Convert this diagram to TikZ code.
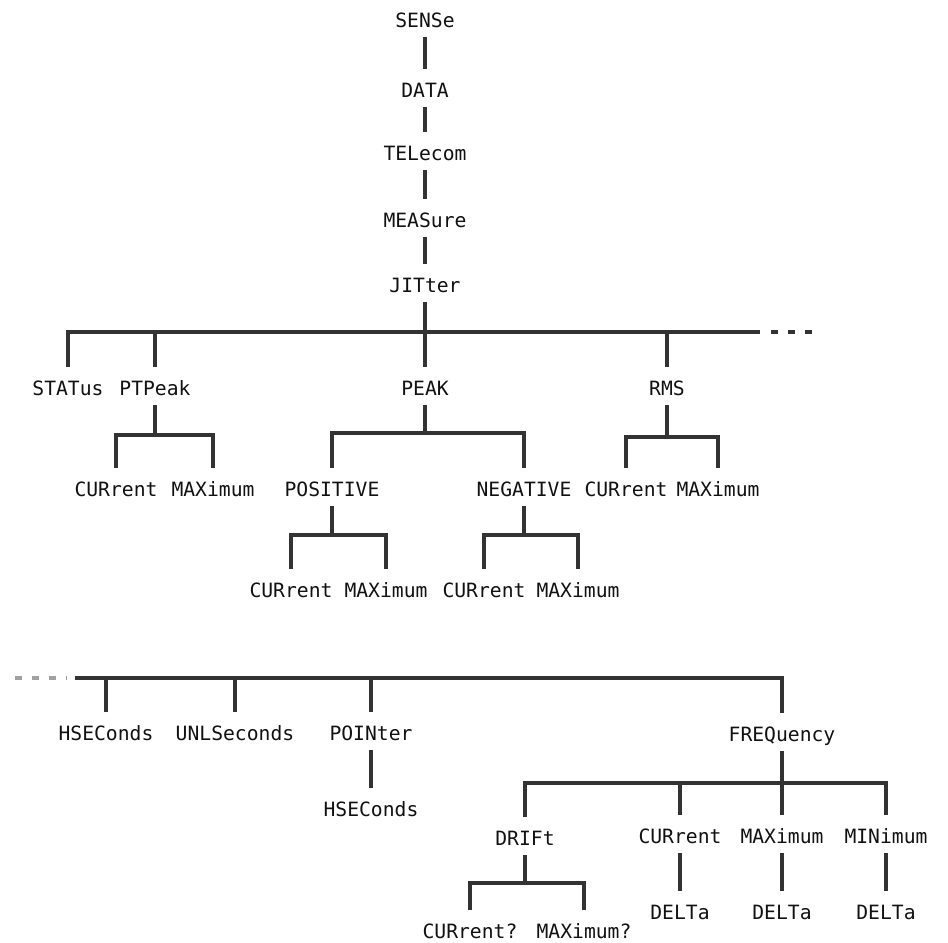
\documentclass[tikz,border=0pt]{standalone}
\usepackage{fontspec}
\setmainfont{DejaVu Sans Mono}
\definecolor{TreeInk}{HTML}{111111}
\definecolor{TreeLine}{HTML}{333333}
\definecolor{TreeFaint}{HTML}{A0A0A0}
\usepackage{tikz}
\tikzset{
    cmd/.style={
        inner sep=0pt,
        anchor=base,
        text height=19.4pt,
        text depth=7pt,
        text=TreeInk,
        font=\fontsize{14pt}{16pt}\selectfont
    },
    link/.style={
        line width=2.4pt,
        TreeLine
    },
    trail/.style={
        line width=2.4pt,
        dash pattern=on 5pt off 7pt,
        #1
    },
    trail/.default=TreeLine
}
\begin{document}
\begin{tikzpicture}[x=0.025cm, y=-0.025cm]
        \useasboundingbox (0,0) rectangle (948,942);

        % Spine
        \node[cmd] (sense) at (425,27) {SENSe};
        \node[cmd] (data) at (425,97) {DATA};
        \node[cmd] (telecom) at (425,160) {TELecom};
        \node[cmd] (measure) at (425,227) {MEASure};
        \node[cmd] (jitter) at (425,292) {JITter};

        \draw[link] (sense) -- (data);
        \draw[link] (data) -- (telecom);
        \draw[link] (telecom) -- (measure);
        \draw[link] (measure) -- (jitter);

        % JITter level
        \node[cmd] (status) at (68,395) {STATus};
        \node[cmd] (ptpeak) at (155,395) {PTPeak};
        \node[cmd] (peak) at (425,395) {PEAK};
        \node[cmd] (rms) at (667,395) {RMS};

        \coordinate (jbusend) at (760,332);
        \coordinate (jdotsstart) at (771,332);
        \coordinate (jdotsend) at (812,332);

        \draw[link] (status) |- (jbusend);
        \draw[link] (ptpeak) -- (ptpeak |- jbusend);
        \draw[link] (rms) -- (rms |- jbusend);
        \draw[link] (jitter) -- (peak);
        \draw[trail] (jdotsstart) -- (jdotsend);

        % PTPeak
        \node[cmd] (ptcur) at (116,496) {CURrent};
        \node[cmd] (ptmax) at (213,496) {MAXimum};
        \coordinate (ptfork) at (155,435);
        \draw[link] (ptpeak) -- (ptfork);
        \draw[link] (ptcur) |- (ptfork) -| (ptmax);

        % PEAK
        \node[cmd] (positive) at (332,496) {POSITIVE};
        \node[cmd] (negative) at (524,496) {NEGATIVE};
        \coordinate (peakfork) at (425,433);
        \draw[link] (peak) -- (peakfork);
        \draw[link] (positive) |- (peakfork) -| (negative);

        % RMS
        \node[cmd] (rmscur) at (626,496) {CURrent};
        \node[cmd] (rmsmax) at (718,496) {MAXimum};
        \coordinate (rmsfork) at (667,437);
        \draw[link] (rms) -- (rmsfork);
        \draw[link] (rmscur) |- (rmsfork) -| (rmsmax);

        % POSITIVE and NEGATIVE
        \node[cmd] (poscur) at (291,597) {CURrent};
        \node[cmd] (posmax) at (386,597) {MAXimum};
        \node[cmd] (negcur) at (484,597) {CURrent};
        \node[cmd] (negmax) at (578,597) {MAXimum};
        \coordinate (posfork) at (332,535);
        \coordinate (negfork) at (524,535);
        \draw[link] (positive) -- (posfork);
        \draw[link] (poscur) |- (posfork) -| (posmax);
        \draw[link] (negative) -- (negfork);
        \draw[link] (negcur) |- (negfork) -| (negmax);

        % Continued level
        \node[cmd] (hsec) at (106,740) {HSEConds};
        \node[cmd] (unls) at (235,740) {UNLSeconds};
        \node[cmd] (pointer) at (371,740) {POINter};
        \node[cmd] (freq) at (782,741) {FREQuency};

        \coordinate (bdotsstart) at (15,678);
        \coordinate (bdotsend) at (67,678);
        \coordinate (bbusstart) at (75,678);

        \draw[trail=TreeFaint] (bdotsstart) -- (bdotsend);
        \draw[link] (bbusstart) -| (freq);
        \draw[link] (hsec) -- (hsec |- bbusstart);
        \draw[link] (unls) -- (unls |- bbusstart);
        \draw[link] (pointer) -- (pointer |- bbusstart);

        % POINter
        \node[cmd] (pthsec) at (371,816) {HSEConds};
        \draw[link] (pointer) -- (pthsec);

        % FREQuency
        \node[cmd] (drift) at (525,845) {DRIFt};
        \node[cmd] (fcur) at (680,843) {CURrent};
        \node[cmd] (fmax) at (782,843) {MAXimum};
        \node[cmd] (fmin) at (886,843) {MINimum};
        \coordinate (fbus) at (782,783);
        \draw[link] (freq) -- (fmax);
        \draw[link] (drift) |- (fbus) -| (fmin);
        \draw[link] (fcur) -- (fcur |- fbus);

        % DELTa
        \node[cmd] (fcurdelta) at (680,919) {DELTa};
        \node[cmd] (fmaxdelta) at (782,919) {DELTa};
        \node[cmd] (fmindelta) at (886,919) {DELTa};
        \draw[link] (fcur) -- (fcurdelta);
        \draw[link] (fmax) -- (fmaxdelta);
        \draw[link] (fmin) -- (fmindelta);

        % DRIFt
        \node[cmd] (driftcur) at (470,938) {CURrent?};
        \node[cmd] (driftmax) at (584,938) {MAXimum?};
        \coordinate (driftfork) at (525,883);
        \draw[link] (drift) -- (driftfork);
        \draw[link] (driftcur) |- (driftfork) -| (driftmax);
    \end{tikzpicture}
\end{document}
